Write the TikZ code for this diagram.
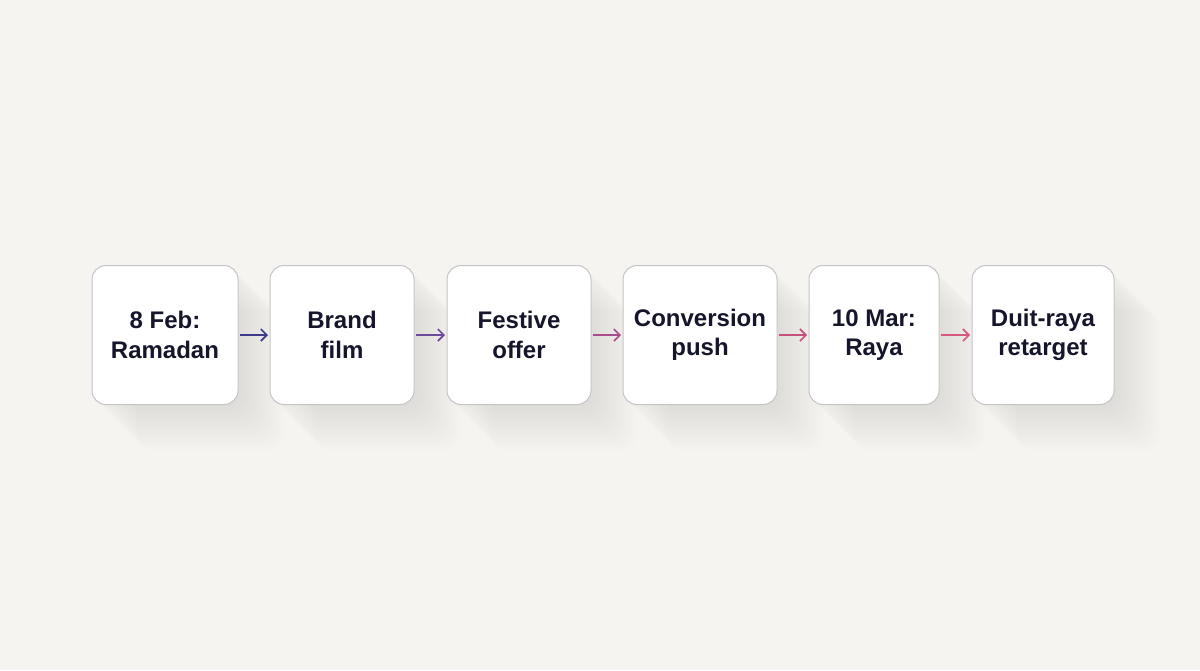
\documentclass[tikz,border=0pt]{standalone}
\usepackage{fontspec}
\setmainfont{Liberation Sans}
\usetikzlibrary{arrows.meta,calc,backgrounds}
\definecolor{bg}{HTML}{F6F4F0}
\definecolor{edge}{HTML}{C6C4C6}
\definecolor{ink}{HTML}{15152B}
\definecolor{a1}{HTML}{3F3B8C}
\definecolor{a2}{HTML}{6C4A9C}
\definecolor{a3}{HTML}{A94C8C}
\definecolor{a4}{HTML}{C4507E}
\definecolor{a5}{HTML}{D65A7E}
\tikzset{
  stepbox/.style={draw=edge, line width=1pt, fill=white, rounded corners=14pt,
    minimum height=139pt, align=center, text=ink,
    font=\fontsize{24}{29.5}\selectfont\bfseries},
  link/.style={line width=1.8pt, -{Straight Barb[length=6pt,width=12pt,line width=1.6pt]}, shorten <=1pt, shorten >=1.5pt},
  shade/.style={fill=black, opacity=0.0045, rounded corners=16pt}
}
\begin{document}
\begin{tikzpicture}[x=1pt,y=-1pt]
\useasboundingbox (0,0) rectangle (1200,670);
\node[stepbox, minimum width=146pt] (b1) at (165,335) {8 Feb:\\Ramadan};
\node[stepbox, minimum width=144pt] (b2) at (342,335) {Brand\\film};
\node[stepbox, minimum width=144pt] (b3) at (519,335) {Festive\\offer};
\node[stepbox, minimum width=154pt] (b4) at (700,335) {Conversion\\push};
\node[stepbox, minimum width=130pt] (b5) at (874,335) {10 Mar:\\Raya};
\node[stepbox, minimum width=142pt] (b6) at (1043,335) {Duit-raya\\retarget};
\begin{pgfonlayer}{background}
\fill[bg] (0,0) rectangle (1200,670);
\foreach \n in {b1,b2,b3,b4,b5,b6}{
  \foreach \k in {2,4,...,46}{
    \fill[shade] ($(\n.north west)+(\k,\k)$) rectangle ($(\n.south east)+(\k,\k)$);
  }
}
\end{pgfonlayer}
\draw[link, a1] (b1) -- (b2);
\draw[link, a2] (b2) -- (b3);
\draw[link, a3] (b3) -- (b4);
\draw[link, a4] (b4) -- (b5);
\draw[link, a5] (b5) -- (b6);
\end{tikzpicture}
\end{document}
